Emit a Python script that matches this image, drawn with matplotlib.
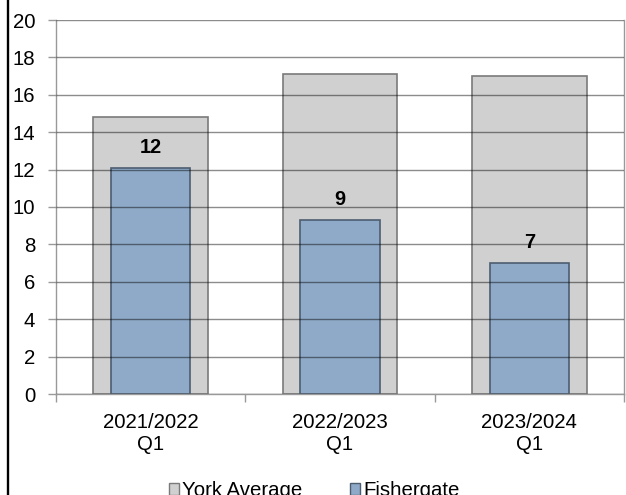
import matplotlib
matplotlib.use("Agg")
import matplotlib.pyplot as plt
from matplotlib.lines import Line2D
from matplotlib.patches import Patch
import numpy as np

categories = ["2021/2022\nQ1", "2022/2023\nQ1", "2023/2024\nQ1"]
york_average = [14.8, 17.1, 17.0]
fishergate = [12.1, 9.3, 7.0]
y_ticks = [0, 2, 4, 6, 8, 10, 12, 14, 16, 18, 20]

plt.rcParams['font.family'] = ['Liberation Sans', 'DejaVu Sans']

W, H = 626, 495
FS = 14.7
fig = plt.figure(figsize=(W / 100, H / 100), dpi=100)
ax = fig.add_axes([56 / W, 1 - 394 / H, (624 - 56) / W, (394 - 20) / H])

x = np.arange(len(categories))
gray_fc = "#d0d0d0"
gray_ec = "#7a7a7a"
blue_fc = "#8eaac8"
blue_ec = "#4c5d70"

ax.bar(x, york_average, width=0.607, color=gray_fc, edgecolor=gray_ec, linewidth=1.2, zorder=1)
ax.bar(x, fishergate, width=0.42, color=blue_fc, edgecolor=blue_ec, linewidth=1.2, zorder=1.2)

for xi, v in zip(x, fishergate):
    ax.annotate(f"{round(v)}", xy=(xi, v), xytext=(0, 14.5), textcoords="offset points",
                ha="center", va="center", fontsize=14.3, fontweight="bold", color="black", zorder=6)

ax.set_xlim(-0.5, len(categories) - 0.5)
ax.set_ylim(0, 20)
ax.set_yticks(y_ticks)
ax.set_yticklabels([str(t) for t in y_ticks])
ax.set_xticks(x)
ax.set_xticklabels(categories)
ax.set_xticks(np.arange(-0.5, len(categories), 1.0), minor=True)

ax.tick_params(axis="x", which="major", length=0, pad=14, labelsize=FS)
ax.tick_params(axis="x", which="minor", length=6, width=1, color="#999999", direction="out")
ax.tick_params(axis="y", which="major", length=6, width=1, color="#999999", direction="out",
               pad=9, labelsize=FS)

ax.set_axisbelow(False)
ax.yaxis.grid(True, color="black", alpha=0.45, linewidth=1)
ax.xaxis.grid(False)

for side, sp in ax.spines.items():
    sp.set_color("#999999")
    sp.set_linewidth(1)
ax.spines["top"].set_visible(False)

handles = [Patch(facecolor=gray_fc, edgecolor=gray_ec, linewidth=1),
           Patch(facecolor=blue_fc, edgecolor=blue_ec, linewidth=1)]
fig.legend(handles, ["York Average", "Fishergate"], loc="center",
           bbox_to_anchor=(0.502, 1 - 491 / H), ncol=2, frameon=False, fontsize=FS,
           handlelength=0.5, handleheight=0.5, handletextpad=0.15, columnspacing=2.3)

fig.add_artist(Line2D([8 / W, 8 / W], [0, 1], transform=fig.transFigure, color="black", linewidth=1.7))

fig.savefig("out.png", dpi=100)
